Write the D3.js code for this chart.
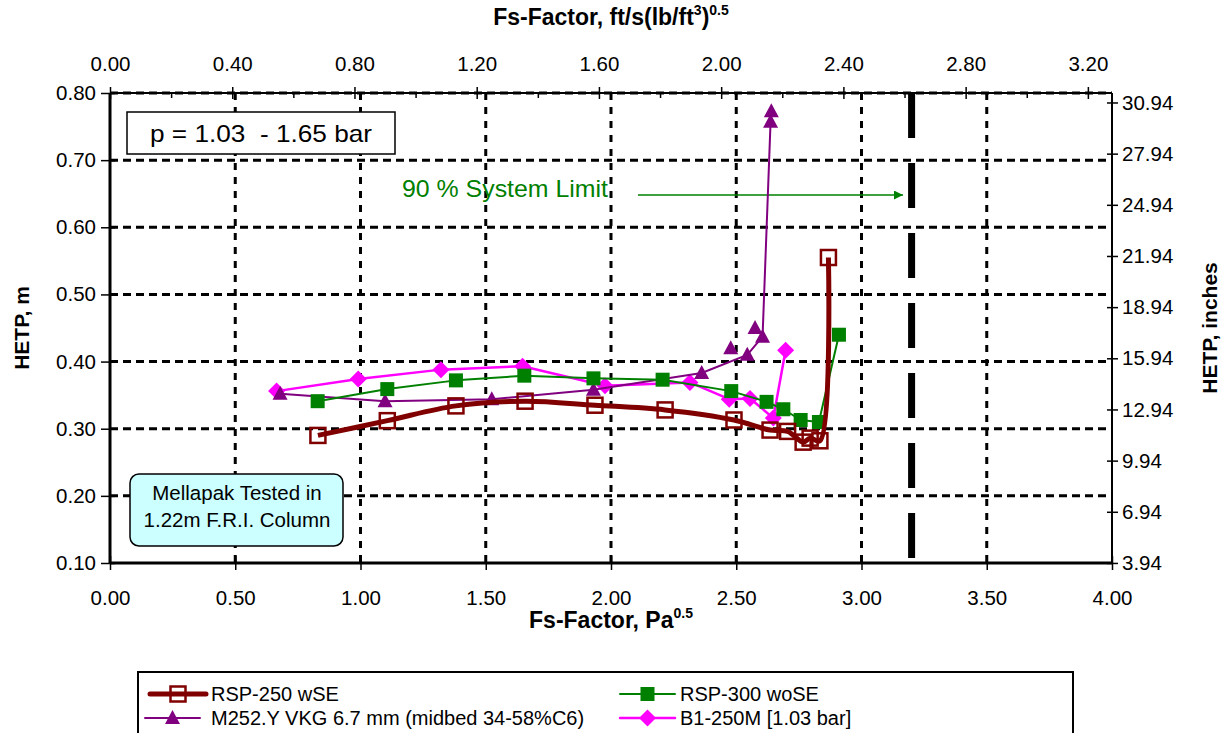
<!DOCTYPE html>
<html>
<head>
  <meta charset="utf-8">
  <title>HETP vs Fs-Factor</title>
  <style>
    body { margin: 0; background: #fff; }
    text { font-family: Arial, "Liberation Sans", sans-serif; }
  </style>
</head>
<body>
<script src="https://d3js.org/d3.v7.min.js"></script>
<script>
  var width = 1230;
  var height = 733;

  // data (Fs in Pa^0.5, HETP in m)
  var rsp250X = [0.83, 1.107, 1.381, 1.657, 1.936, 2.216, 2.491, 2.635, 2.705, 2.767, 2.795, 2.834, 2.868];
  var rsp250Y = [0.290, 0.312, 0.334, 0.341, 0.335, 0.328, 0.313, 0.298, 0.296, 0.280, 0.286, 0.282, 0.555];

  var rsp300X = [0.829, 1.107, 1.381, 1.654, 1.930, 2.206, 2.480, 2.621, 2.688, 2.757, 2.830, 2.910];
  var rsp300Y = [0.341, 0.359, 0.372, 0.379, 0.375, 0.373, 0.356, 0.340, 0.329, 0.313, 0.310, 0.440];

  var m252X = [0.679, 1.098, 1.524, 1.930, 2.362, 2.544, 2.605, 2.637, 2.640];
  var m252Y = [0.352, 0.341, 0.344, 0.358, 0.383, 0.410, 0.437, 0.757, 0.773];
  // extra M252 points that sit off the line
  var m252ExtraX = [2.478, 2.575];
  var m252ExtraY = [0.420, 0.450];

  var b1X = [0.665, 0.991, 1.321, 1.647, 1.976, 2.315, 2.472, 2.555, 2.648, 2.697];
  var b1Y = [0.356, 0.374, 0.388, 0.393, 0.364, 0.369, 0.344, 0.345, 0.316, 0.417];

  var xTicks = [0, 0.5, 1, 1.5, 2, 2.5, 3, 3.5, 4];
  var yTicks = [0.1, 0.2, 0.3, 0.4, 0.5, 0.6, 0.7, 0.8];
  var topTicks = [0, 0.4, 0.8, 1.2, 1.6, 2.0, 2.4, 2.8, 3.2];
  var topMinor = [0.2, 0.6, 1.0, 1.4, 1.8, 2.2, 2.6, 3.0];
  var inchTicks = [3.94, 6.94, 9.94, 12.94, 15.94, 18.94, 21.94, 24.94, 27.94, 30.94];
  var systemLimit = 3.2;

  var seriesNames = ['RSP-250 wSE', 'RSP-300 woSE', 'M252.Y VKG 6.7 mm (midbed 34-58%C6)', 'B1-250M [1.03 bar]'];

  var pLeft = 110, pRight = 1112, pTop = 93, pBottom = 563;
  var ftFactor = 1.2199; // Pa^0.5 per ft/s(lb/ft3)^0.5

  var x = d3.scaleLinear().domain([0, 4]).range([pLeft, pRight]);
  var xTop = d3.scaleLinear().domain([0, 4 / ftFactor]).range([pLeft, pRight]);
  var y = d3.scaleLinear().domain([0.1, 0.8]).range([pBottom, pTop]);
  var yIn = d3.scaleLinear().domain([0.1 / 0.0254, 0.8 / 0.0254]).range([pBottom, pTop]);

  var svg = d3.select('body').append('svg')
    .attr('width', width)
    .attr('height', height);

  // grid
  var grid = svg.append('g');
  grid.selectAll('.hg')
    .data(yTicks.slice(1))
    .enter().append('line')
      .attr('x1', pLeft).attr('x2', pRight)
      .attr('y1', function(d) { return y(d); })
      .attr('y2', function(d) { return y(d); })
      .attr('stroke', '#000').attr('stroke-width', 3)
      .attr('stroke-dasharray', '8,5');
  grid.selectAll('.vg')
    .data(xTicks.slice(1, -1))
    .enter().append('line')
      .attr('y1', pTop).attr('y2', pBottom)
      .attr('x1', function(d) { return x(d); })
      .attr('x2', function(d) { return x(d); })
      .attr('stroke', '#000').attr('stroke-width', 3)
      .attr('stroke-dasharray', '7,7');

  // frame
  svg.append('line').attr('x1', pLeft).attr('x2', pRight).attr('y1', pTop).attr('y2', pTop)
    .attr('stroke', '#000').attr('stroke-width', 2);
  svg.append('line').attr('x1', pLeft).attr('x2', pRight).attr('y1', pBottom).attr('y2', pBottom)
    .attr('stroke', '#000').attr('stroke-width', 3);
  svg.append('line').attr('x1', pLeft).attr('x2', pLeft).attr('y1', pTop).attr('y2', pBottom)
    .attr('stroke', '#000').attr('stroke-width', 3);
  svg.append('line').attr('x1', pRight).attr('x2', pRight).attr('y1', pTop).attr('y2', pBottom)
    .attr('stroke', '#000').attr('stroke-width', 2);

  // axes
  var fmt = d3.format('.2f');
  var tickFont = 20.5;

  var gBottom = svg.append('g').attr('transform', 'translate(0,' + pBottom + ')')
    .call(d3.axisBottom(x).tickValues(xTicks).tickFormat(fmt).tickSizeInner(7).tickSizeOuter(0).tickPadding(20));
  var gTop = svg.append('g').attr('transform', 'translate(0,' + pTop + ')')
    .call(d3.axisTop(xTop).tickValues(topTicks).tickFormat(fmt).tickSizeInner(6).tickSizeOuter(0).tickPadding(16));
  var gTopMinor = svg.append('g').attr('transform', 'translate(0,' + pTop + ')')
    .call(d3.axisBottom(xTop).tickValues(topMinor).tickFormat('').tickSizeInner(5).tickSizeOuter(0));
  var gLeft = svg.append('g').attr('transform', 'translate(' + pLeft + ',0)')
    .call(d3.axisLeft(y).tickValues(yTicks).tickFormat(fmt).tickSizeInner(9).tickSizeOuter(0).tickPadding(5));
  var gRight = svg.append('g').attr('transform', 'translate(' + pRight + ',0)')
    .call(d3.axisRight(yIn).tickValues(inchTicks).tickFormat(fmt).tickSizeInner(6).tickSizeOuter(0).tickPadding(4));

  [gBottom, gTop, gTopMinor, gLeft, gRight].forEach(function(g) {
    g.select('.domain').remove();
    g.selectAll('line').attr('stroke', '#000').attr('stroke-width', 1.5);
    g.selectAll('text').attr('font-size', tickFont).attr('fill', '#000')
      .attr('font-family', 'Arial, "Liberation Sans", sans-serif');
  });
  // crossing ticks
  gBottom.selectAll('.tick line').attr('y1', -7);
  gTop.selectAll('.tick line').attr('y1', 6);
  gLeft.selectAll('.tick line').attr('x1', 5);
  gRight.selectAll('.tick line').attr('x1', -5);

  // axis titles
  svg.append('text').attr('x', 611).attr('y', 628).attr('text-anchor', 'middle')
    .attr('font-size', 23).attr('font-weight', 'bold')
    .html('Fs-Factor, Pa<tspan dy="-10" font-size="14">0.5</tspan>');
  svg.append('text').attr('x', 611).attr('y', 25).attr('text-anchor', 'middle')
    .attr('font-size', 23).attr('font-weight', 'bold')
    .html('Fs-Factor, ft/s(lb/ft<tspan dy="-10" font-size="14">3</tspan><tspan dy="10">)</tspan><tspan dy="-10" font-size="14">0.5</tspan>');
  svg.append('text').attr('transform', 'translate(29,328) rotate(-90)').attr('text-anchor', 'middle')
    .attr('font-size', 21).attr('font-weight', 'bold').text('HETP, m');
  svg.append('text').attr('transform', 'translate(1217,328) rotate(-90)').attr('text-anchor', 'middle')
    .attr('font-size', 21).attr('font-weight', 'bold').text('HETP, inches');

  // system limit line
  svg.append('line')
    .attr('x1', x(systemLimit)).attr('x2', x(systemLimit))
    .attr('y1', pTop).attr('y2', pBottom)
    .attr('stroke', '#000').attr('stroke-width', 7)
    .attr('stroke-dasharray', '45,25');

  // annotations
  svg.append('rect').attr('x', 127).attr('y', 112).attr('width', 268).attr('height', 42)
    .attr('fill', '#fff').attr('stroke', '#000').attr('stroke-width', 1.5);
  svg.append('text').attr('x', 150).attr('y', 142)
    .attr('font-size', 24).attr('xml:space', 'preserve').style('white-space', 'pre')
    .attr('textLength', 222).attr('lengthAdjust', 'spacingAndGlyphs')
    .text('p = 1.03  - 1.65 bar');

  svg.append('text').attr('x', 402).attr('y', 197)
    .attr('font-size', 24).attr('fill', '#008000')
    .attr('textLength', 206).attr('lengthAdjust', 'spacingAndGlyphs')
    .text('90 % System Limit');
  var defs = svg.append('defs');
  defs.append('marker').attr('id', 'arr')
    .attr('viewBox', '0 0 10 10').attr('refX', 10).attr('refY', 5)
    .attr('markerWidth', 9).attr('markerHeight', 9).attr('markerUnits', 'userSpaceOnUse')
    .attr('orient', 'auto')
    .append('path').attr('d', 'M0,0L10,5L0,10z').attr('fill', '#008000');
  svg.append('line').attr('x1', 638).attr('x2', 903).attr('y1', 195).attr('y2', 195)
    .attr('stroke', '#008000').attr('stroke-width', 1.5).attr('marker-end', 'url(#arr)');

  svg.append('rect').attr('x', 130).attr('y', 474).attr('width', 213).attr('height', 72)
    .attr('rx', 9).attr('fill', '#ccffff').attr('stroke', '#000').attr('stroke-width', 1.5);
  svg.append('text').attr('x', 237).attr('y', 500).attr('text-anchor', 'middle')
    .attr('font-size', 20.5).text('Mellapak Tested in');
  svg.append('text').attr('x', 237).attr('y', 527).attr('text-anchor', 'middle')
    .attr('font-size', 20.5).text('1.22m F.R.I. Column');

  // series
  function zip(xs, ys) {
    return xs.map(function(v, i) { return [v, ys[i]]; });
  }
  var lineStraight = d3.line().x(function(d) { return x(d[0]); }).y(function(d) { return y(d[1]); });
  var lineSmooth = d3.line().curve(d3.curveCatmullRom.alpha(0.5))
    .x(function(d) { return x(d[0]); }).y(function(d) { return y(d[1]); });

  var series = [
    { pts: zip(rsp250X, rsp250Y), color: '#800000', width: 5, line: lineSmooth, marker: 'hollowSquare' },
    { pts: zip(rsp300X, rsp300Y), color: '#008000', width: 2, line: lineStraight, marker: 'square' },
    { pts: zip(m252X, m252Y), color: '#800080', width: 2, line: lineStraight, marker: 'triangle' },
    { pts: zip(b1X, b1Y), color: '#ff00ff', width: 2.5, line: lineStraight, marker: 'diamond' }
  ];

  function drawMarker(g, type, color, cx, cy) {
    if (type === 'hollowSquare') {
      g.append('rect').attr('x', cx - 7.5).attr('y', cy - 7.5).attr('width', 15).attr('height', 15)
        .attr('fill', 'none').attr('stroke', color).attr('stroke-width', 2.5);
    } else if (type === 'square') {
      g.append('rect').attr('x', cx - 7).attr('y', cy - 7).attr('width', 14).attr('height', 14)
        .attr('fill', color);
    } else if (type === 'triangle') {
      g.append('path').attr('d', 'M' + cx + ',' + (cy - 8) + 'L' + (cx + 7.5) + ',' + (cy + 6) + 'L' + (cx - 7.5) + ',' + (cy + 6) + 'Z')
        .attr('fill', color);
    } else if (type === 'diamond') {
      g.append('path').attr('d', 'M' + cx + ',' + (cy - 8.5) + 'L' + (cx + 8.5) + ',' + cy + 'L' + cx + ',' + (cy + 8.5) + 'L' + (cx - 8.5) + ',' + cy + 'Z')
        .attr('fill', color);
    }
  }

  var plot = svg.append('g');
  // draw order: magenta, purple, green, dark red on top
  [3, 2, 1, 0].forEach(function(i) {
    var s = series[i];
    var g = plot.append('g');
    g.append('path').attr('d', s.line(s.pts)).attr('fill', 'none')
      .attr('stroke', s.color).attr('stroke-width', s.width).attr('stroke-linejoin', 'round');
    s.pts.forEach(function(p) { drawMarker(g, s.marker, s.color, x(p[0]), y(p[1])); });
    if (i === 2) {
      zip(m252ExtraX, m252ExtraY).forEach(function(p) { drawMarker(g, 'triangle', s.color, x(p[0]), y(p[1])); });
    }
  });

  // legend
  var leg = svg.append('g');
  leg.append('rect').attr('x', 138).attr('y', 672).attr('width', 935).attr('height', 80)
    .attr('fill', '#fff').attr('stroke', '#000').attr('stroke-width', 2);
  var legPos = [
    { x1: 150, x2: 206, tx: 211, ty: 694 },
    { x1: 620, x2: 675, tx: 680, ty: 694 },
    { x1: 145, x2: 200, tx: 211, ty: 718 },
    { x1: 620, x2: 675, tx: 680, ty: 718 }
  ];
  series.forEach(function(s, i) {
    var p = legPos[i];
    leg.append('line').attr('x1', p.x1).attr('x2', p.x2).attr('y1', p.ty).attr('y2', p.ty)
      .attr('stroke', s.color).attr('stroke-width', s.width).attr('stroke-linecap', 'round');
    drawMarker(leg, s.marker, s.color, (p.x1 + p.x2) / 2, p.ty);
    leg.append('text').attr('x', p.tx).attr('y', p.ty + 7).attr('font-size', 20).text(seriesNames[i]);
  });
</script>
</body>
</html>
